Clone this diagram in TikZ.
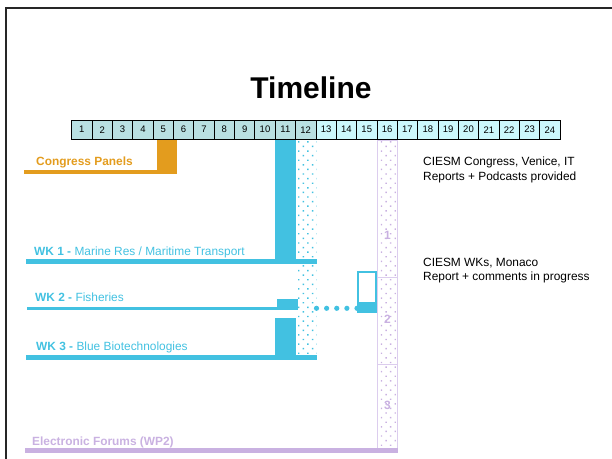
\documentclass[tikz,border=0pt]{standalone}
\usepackage{fontspec}
\setmainfont{Liberation Sans}
\usepackage{tikz}
\usetikzlibrary{patterns.meta,calc}

\definecolor{panelorange}{HTML}{E39C1E}
\definecolor{wkcyan}{HTML}{42C1E1}
\definecolor{forumpurple}{HTML}{C9B1E1}
\definecolor{purpleedge}{HTML}{DCCDEE}
\definecolor{cellold}{HTML}{B9E0E2}
\definecolor{cellnew}{HTML}{CCF8FC}

\begin{document}
\begin{tikzpicture}[x=1bp,y=-1bp,
    cell/.style={draw=black,line width=0.8bp,minimum width=20.35bp,minimum height=19.5bp,
      inner sep=0pt,font=\fontsize{9.5bp}{10bp}\selectfont},
    lbl/.style={anchor=base west,inner sep=0pt,font=\fontsize{11.9bp}{14bp}\selectfont},
    numlbl/.style={inner sep=0pt,text=forumpurple,font=\bfseries\fontsize{12bp}{14bp}\selectfont},
    dotfill/.style={pattern={Dots[radius=1bp,distance=6.5bp,angle=45]}}]
    \useasboundingbox (0,0) rectangle (612,459);
    \draw[line width=2bp,black!85] (6,8.5) rectangle (625,475);

    \node[anchor=base,inner sep=0pt,font=\bfseries\fontsize{30bp}{32bp}\selectfont] (title) at (311,99) {Timeline};

    % months
    \foreach \k in {1,...,24}{
      \pgfmathsetmacro{\cx}{71.7+(\k-0.5)*20.35}
      \ifnum\k<13 \def\cfill{cellold}\else\def\cfill{cellnew}\fi
      \node[cell,fill=\cfill] (c\k) at (\cx,129.7) {\k};
    }

    % congress panels
    \fill[panelorange] (24,169.8) rectangle (177,173.6);
    \fill[panelorange] (157,140) rectangle (177,173);
    \node[lbl,text=panelorange,font=\bfseries\fontsize{11.9bp}{14bp}\selectfont] (congress) at (36,166) {Congress Panels};

    % workshops
    \fill[dotfill,pattern color=wkcyan] (296,140) rectangle (316.7,355);
    \fill[wkcyan] (26,259.5) rectangle (317,264.5);
    \fill[wkcyan] (275.3,140) rectangle (296,262);
    \node[lbl,text=wkcyan] (wk1) at (34,256) {\textbf{WK 1 -} Marine Res / Maritime Transport};

    \fill[wkcyan] (27,307) rectangle (297.5,310);
    \fill[wkcyan] (277.3,299) rectangle (297.7,310);
    \node[lbl,text=wkcyan] (wk2) at (35,301.7) {\textbf{WK 2 -} Fisheries};

    \coordinate (dotstart) at (316.5,308.3);
    \coordinate (dotend) at (357,308.3);
    \foreach \i in {0,...,4}
      \fill[wkcyan] ($(dotstart)!\i/4!(dotend)$) circle (2.6);
    \draw[wkcyan,line width=2bp] (357.5,272.5) rectangle (376,312);
    \fill[wkcyan] (356.5,302) rectangle (377,313);

    \fill[wkcyan] (275.3,318) rectangle (296,355);
    \fill[wkcyan] (26,354.5) rectangle (317,359.5);
    \node[lbl,text=wkcyan] (wk3) at (36,350.7) {\textbf{WK 3 -} Blue Biotechnologies};

    % electronic forums
    \draw[purpleedge,line width=0.8bp,dotfill,pattern color=forumpurple] (377.5,140) rectangle (397.5,450);
    \draw[purpleedge,line width=0.8bp] (377.5,277) -- (397.5,277);
    \draw[purpleedge,line width=0.8bp] (377.5,364) -- (397.5,364);
    \node[numlbl] (ef1) at (387.5,235) {1};
    \node[numlbl] (ef2) at (387.5,319) {2};
    \node[numlbl] (ef3) at (387.5,405) {3};
    \fill[forumpurple] (25,448.3) rectangle (398,452.7);
    \node[lbl,text=forumpurple,font=\bfseries\fontsize{11.9bp}{14bp}\selectfont] (forums) at (32,445) {Electronic Forums (WP2)};

    % notes
    \node[lbl] (note1) at (423,166) {CIESM Congress, Venice, IT};
    \node[lbl] (note1b) at (423,180.5) {Reports + Podcasts provided};
    \node[lbl] (note2) at (423,266.5) {CIESM WKs, Monaco};
    \node[lbl] (note2b) at (423,281) {Report + comments in progress};
\end{tikzpicture}
\end{document}
